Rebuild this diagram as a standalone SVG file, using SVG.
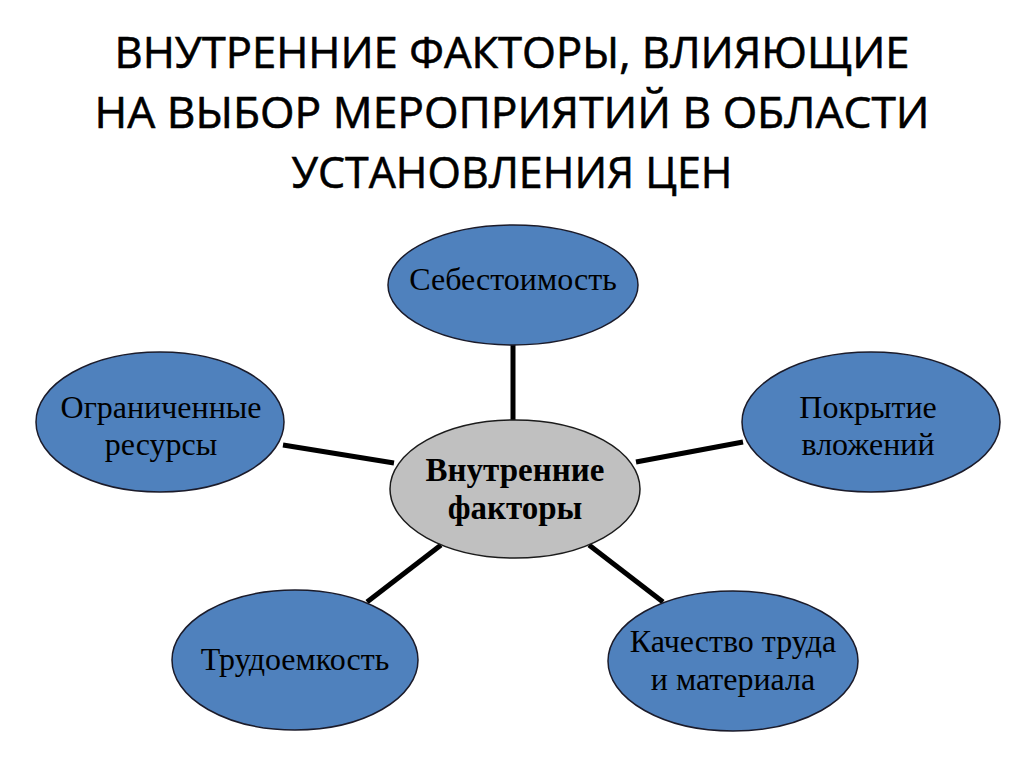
<svg xmlns="http://www.w3.org/2000/svg" width="1024" height="767" viewBox="0 0 1024 767">
<style>
.title{font-family:"Open Sans","Liberation Sans",sans-serif;font-size:44px;fill:#000;text-anchor:middle;stroke:#000;stroke-width:0.6}
.blue{fill:#4F81BD;stroke:#1b1b2a;stroke-width:1.5}
.gray{fill:#C0C0C0;stroke:#1b1b1b;stroke-width:1.5}
.lbl{font-family:"Liberation Serif","Times New Roman",serif;font-size:32px;fill:#000;text-anchor:middle}
.lblb{font-family:"Liberation Serif","Times New Roman",serif;font-size:33px;font-weight:bold;fill:#000;text-anchor:middle}
.conn line{stroke:#000;stroke-width:5}
</style>
<rect width="1024" height="767" fill="#fff"/>
<g id="title">
<text class="title" x="512" y="68" textLength="795" lengthAdjust="spacingAndGlyphs">ВНУТРЕННИЕ ФАКТОРЫ, ВЛИЯЮЩИЕ</text>
<text class="title" x="512" y="128" textLength="835" lengthAdjust="spacingAndGlyphs">НА ВЫБОР МЕРОПРИЯТИЙ В ОБЛАСТИ</text>
<text class="title" x="512" y="188" textLength="441" lengthAdjust="spacingAndGlyphs">УСТАНОВЛЕНИЯ ЦЕН</text>
</g>
<g id="connectors" class="conn">
<line x1="513" y1="344" x2="513" y2="421"/>
<line x1="283" y1="445" x2="394" y2="463"/>
<line x1="636" y1="462" x2="743" y2="442"/>
<line x1="441" y1="545" x2="367" y2="602"/>
<line x1="589" y1="545" x2="663" y2="602"/>
</g>
<g id="center">
<ellipse class="gray" cx="515" cy="489" rx="125" ry="69"/>
<text class="lblb" x="515" y="481">Внутренние</text>
<text class="lblb" x="515" y="519">факторы</text>
</g>
<g id="sebestoimost">
<ellipse class="blue" cx="513" cy="285" rx="125" ry="60"/>
<text class="lbl" x="513" y="290">Себестоимость</text>
</g>
<g id="ogranichennye">
<ellipse class="blue" cx="160" cy="422" rx="124" ry="70"/>
<text class="lbl" x="161" y="418">Ограниченные</text>
<text class="lbl" x="161" y="455">ресурсы</text>
</g>
<g id="pokrytie">
<ellipse class="blue" cx="871" cy="422" rx="129" ry="70"/>
<text class="lbl" x="868" y="418">Покрытие</text>
<text class="lbl" x="868" y="455">вложений</text>
</g>
<g id="trudoemkost">
<ellipse class="blue" cx="295" cy="660" rx="123" ry="70"/>
<text class="lbl" x="295" y="670">Трудоемкость</text>
</g>
<g id="kachestvo">
<ellipse class="blue" cx="733" cy="661" rx="125" ry="70"/>
<text class="lbl" x="733" y="652">Качество труда</text>
<text class="lbl" x="733" y="690">и материала</text>
</g>
</svg>
